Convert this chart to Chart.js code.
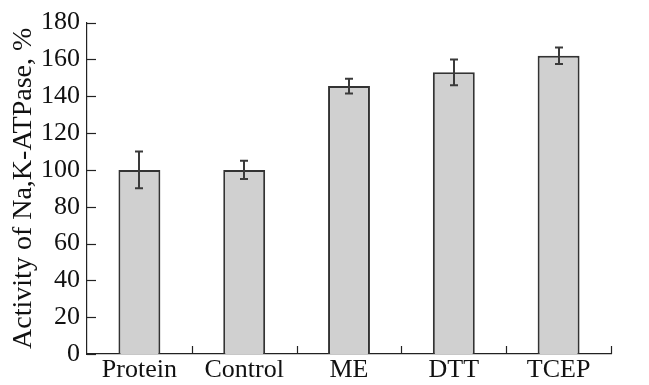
<!DOCTYPE html>
<html>
<head>
<meta charset="utf-8">
<script src="https://cdn.jsdelivr.net/npm/chart.js@4"></script>
<style>
  body { margin: 0; background: #fff; }
  #wrap { width: 649px; height: 385px; }
</style>
</head>
<body>
<div id="wrap"><canvas id="chart1"></canvas></div>
<script>
// data
const groups = ['Protein', 'Control', 'ME', 'DTT', 'TCEP'];
const activity = [100, 100, 145.5, 153, 162];
const errors = [10, 5, 4, 7, 4.5];
const yTicks = [0, 20, 40, 60, 80, 100, 120, 140, 160, 180];

// error bars + inward ticks, drawn after the bars
const extras = {
  id: 'extras',
  afterDatasetsDraw(chart) {
    const ctx = chart.ctx;
    const x = chart.scales.x;
    const y = chart.scales.y;
    const area = chart.chartArea;
    ctx.save();

    // error bars
    ctx.strokeStyle = '#3a3a3a';
    ctx.lineWidth = 2;
    activity.forEach((v, i) => {
      const px = Math.round(x.getPixelForValue(i));
      const top = y.getPixelForValue(v + errors[i]);
      const bot = y.getPixelForValue(v - errors[i]);
      ctx.beginPath();
      ctx.moveTo(px, top); ctx.lineTo(px, bot);
      ctx.moveTo(px - 4, top); ctx.lineTo(px + 4, top);
      ctx.moveTo(px - 4, bot); ctx.lineTo(px + 4, bot);
      ctx.stroke();
    });

    // ticks pointing inward
    ctx.strokeStyle = '#222';
    ctx.lineWidth = 1.2;
    yTicks.forEach(t => {
      const py = Math.round(y.getPixelForValue(t)) + 0.5;
      ctx.beginPath();
      ctx.moveTo(area.left, py); ctx.lineTo(area.left + 9, py);
      ctx.stroke();
    });
    const step = x.getPixelForValue(1) - x.getPixelForValue(0);
    groups.forEach((g, i) => {
      const px = Math.round(x.getPixelForValue(i) + step / 2) + 0.5;
      ctx.beginPath();
      ctx.moveTo(px, area.bottom); ctx.lineTo(px, area.bottom - 8);
      ctx.stroke();
    });
    ctx.restore();
  }
};

const data = {
  labels: groups,
  datasets: [{
    label: 'Activity',
    data: activity,
    backgroundColor: '#d0d0d0',
    borderColor: '#333',
    borderWidth: 2,
    categoryPercentage: 1,
    barPercentage: 0.4
  }]
};

const config = {
  type: 'bar',
  data,
  options: {
    responsive: true,
    maintainAspectRatio: false,
    animation: false,
    layout: { padding: { top: 20, right: 38, left: 0, bottom: 0 } },
    plugins: {
      legend: { display: false },
      tooltip: { enabled: false }
    },
    scales: {
      x: {
        afterFit: (axis) => { axis.height = 31; },
        grid: { display: false, drawTicks: false },
        border: { color: '#222', width: 1.2 },
        ticks: {
          color: '#111',
          padding: 3,
          font: { family: 'Liberation Serif', size: 26, lineHeight: 1 }
        }
      },
      y: {
        min: 0,
        max: 180,
        afterFit: (axis) => { axis.width = 87; },
        afterBuildTicks: (axis) => { axis.ticks = yTicks.map(v => ({ value: v })); },
        grid: { display: false, drawTicks: false },
        border: { color: '#222', width: 1.2 },
        ticks: {
          color: '#111',
          padding: 7,
          font: { family: 'Liberation Serif', size: 26 }
        },
        title: {
          display: true,
          text: 'Activity of Na,K-ATPase, %',
          color: '#111',
          padding: { top: 10, bottom: 0 },
          font: { family: 'Liberation Serif', size: 28, lineHeight: 1 }
        }
      }
    }
  },
  plugins: [extras]
};

const ctx = document.getElementById('chart1').getContext('2d');
const myChart = new Chart(ctx, config);
</script>
</body>
</html>
